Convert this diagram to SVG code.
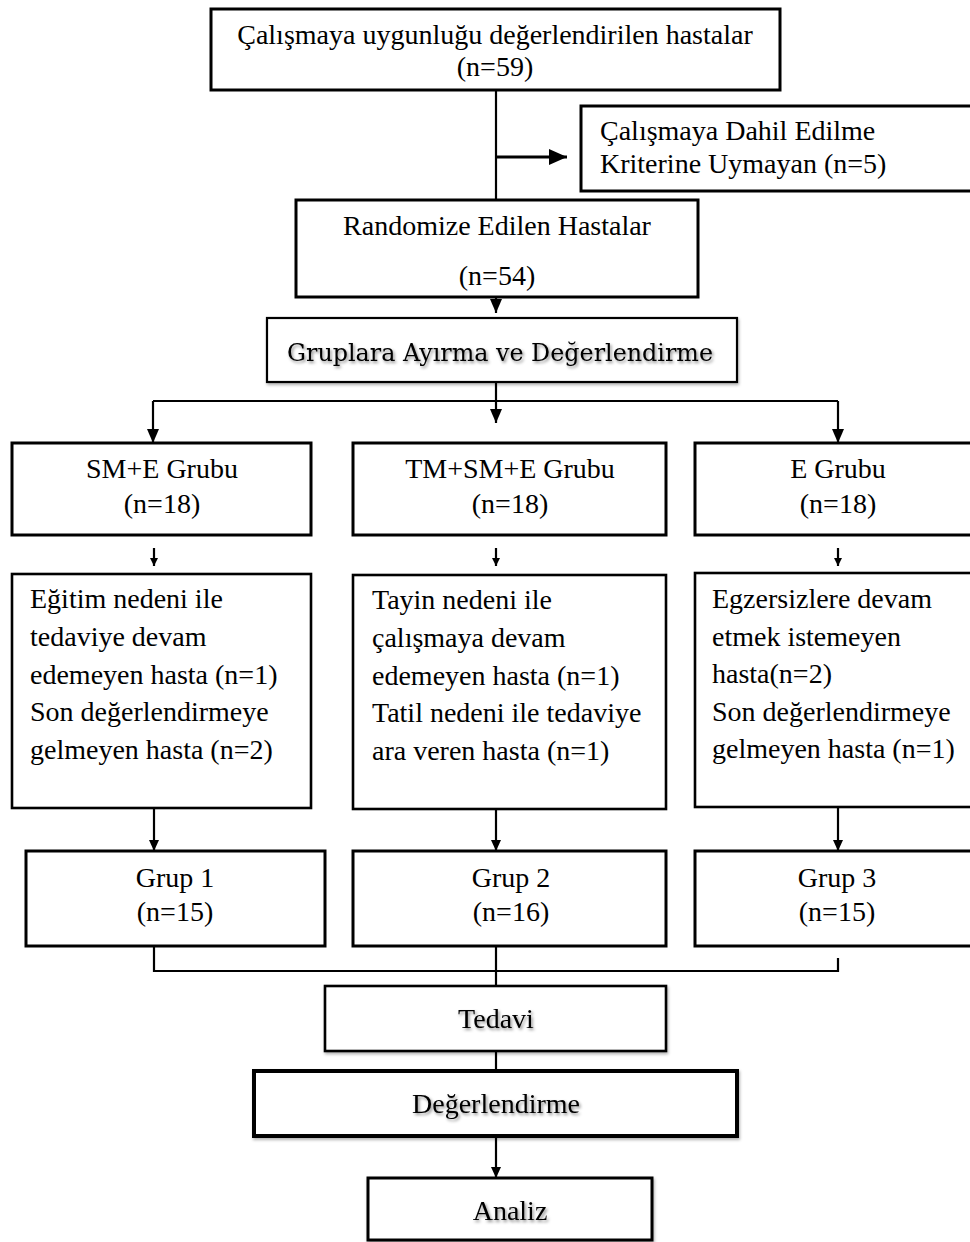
<svg xmlns="http://www.w3.org/2000/svg" width="970" height="1242" viewBox="0 0 970 1242">
<style>
  .box { fill: #ffffff; stroke: #000000; stroke-width: 3; }
  .thin { stroke-width: 2.2; }
  .mid { stroke-width: 2.6; }
  .thick { stroke-width: 4; }
  .t { font-family: "Liberation Serif", "Times New Roman", serif; font-size: 28px; fill: #000000; }
  .c { text-anchor: middle; }
  .cam { font-family: "DejaVu Serif", "Liberation Serif", serif; font-size: 25px; fill: #000000; }
  .ln { fill: none; stroke: #000000; stroke-width: 2.2; }
  .bold { stroke-width: 3.2; }
  .sh { filter: url(#tshadow); }
  .bsh { filter: url(#bshadow); }
</style>
<defs>
  <filter id="tshadow" x="-10%" y="-30%" width="120%" height="160%">
    <feDropShadow dx="1.5" dy="2" stdDeviation="1.4" flood-color="#000000" flood-opacity="0.45"/>
  </filter>
  <filter id="bshadow" x="-5%" y="-10%" width="110%" height="130%">
    <feDropShadow dx="1" dy="2" stdDeviation="1.5" flood-color="#000000" flood-opacity="0.3"/>
  </filter>
  <marker id="arrL" markerUnits="userSpaceOnUse" markerWidth="18" markerHeight="16" refX="18" refY="8" orient="auto">
    <path d="M0,0 L18,8 L0,16 z" fill="#000000"/>
  </marker>
  <marker id="arr" markerUnits="userSpaceOnUse" markerWidth="14" markerHeight="12" refX="14" refY="6" orient="auto">
    <path d="M0,0 L14,6 L0,12 z" fill="#000000"/>
  </marker>
  <marker id="arrM" markerUnits="userSpaceOnUse" markerWidth="11" markerHeight="10" refX="11" refY="5" orient="auto">
    <path d="M0,0 L11,5 L0,10 z" fill="#000000"/>
  </marker>
  <marker id="arrS" markerUnits="userSpaceOnUse" markerWidth="8" markerHeight="8" refX="8" refY="4" orient="auto">
    <path d="M0,0 L8,4 L0,8 z" fill="#000000"/>
  </marker>
</defs>
<rect x="0" y="0" width="970" height="1242" fill="#ffffff"/>

<g id="connectors">
  <path class="ln" d="M496,91 V200"/>
  <path class="ln bold" d="M496,157 H567" marker-end="url(#arrL)"/>
  <path class="ln" d="M496,297 V313" marker-end="url(#arr)"/>
  <path class="ln" d="M496,382 V401"/>
  <path class="ln" d="M153,401 H838"/>
  <path class="ln" d="M153,401 V443" marker-end="url(#arr)"/>
  <path class="ln" d="M496,401 V423" marker-end="url(#arr)"/>
  <path class="ln" d="M838,401 V443" marker-end="url(#arr)"/>
  <path class="ln" d="M154,548 V566" marker-end="url(#arrS)"/>
  <path class="ln" d="M496,548 V566" marker-end="url(#arrS)"/>
  <path class="ln" d="M838,548 V566" marker-end="url(#arrS)"/>
  <path class="ln" d="M154,809 V851" marker-end="url(#arrM)"/>
  <path class="ln" d="M496,809 V851" marker-end="url(#arrM)"/>
  <path class="ln" d="M838,808 V851" marker-end="url(#arrM)"/>
  <path class="ln" d="M154,947 V971 H838 V958"/>
  <path class="ln" d="M496,947 V986"/>
  <path class="ln" d="M496,1051 V1071"/>
  <path class="ln" d="M496,1137 V1178" marker-end="url(#arrM)"/>
</g>

<g id="node-eligible">
  <rect class="box" x="211" y="9" width="569" height="81"/>
  <text class="t c" x="495" y="44">Çalışmaya uygunluğu değerlendirilen hastalar</text>
  <text class="t c" x="495" y="76">(n=59)</text>
</g>

<g id="node-excluded">
  <rect class="box" x="581" y="106" width="400" height="85"/>
  <text class="t" x="600" y="140">Çalışmaya Dahil Edilme</text>
  <text class="t" x="600" y="173">Kriterine Uymayan (n=5)</text>
</g>

<g id="node-randomized">
  <rect class="box" x="296" y="200" width="402" height="97"/>
  <text class="t c" x="497" y="235">Randomize Edilen Hastalar</text>
  <text class="t c" x="497" y="285">(n=54)</text>
</g>

<g id="node-allocation">
  <rect class="box thin bsh" x="267" y="318" width="470" height="64"/>
  <text class="cam c sh" x="500" y="361" textLength="426" lengthAdjust="spacingAndGlyphs">Gruplara Ayırma ve Değerlendirme</text>
</g>

<g id="node-sme">
  <rect class="box" x="12" y="443" width="299" height="92"/>
  <text class="t c" x="162" y="478">SM+E Grubu</text>
  <text class="t c" x="162" y="513">(n=18)</text>
</g>

<g id="node-tmsme">
  <rect class="box" x="353" y="443" width="313" height="92"/>
  <text class="t c" x="510" y="478">TM+SM+E Grubu</text>
  <text class="t c" x="510" y="513">(n=18)</text>
</g>

<g id="node-e">
  <rect class="box" x="695" y="443" width="300" height="92"/>
  <text class="t c" x="838" y="478">E Grubu</text>
  <text class="t c" x="838" y="513">(n=18)</text>
</g>

<g id="node-loss1">
  <rect class="box mid" x="12" y="574" width="299" height="234"/>
  <text class="t" x="30" y="608">Eğitim nedeni ile</text>
  <text class="t" x="30" y="646">tedaviye devam</text>
  <text class="t" x="30" y="684">edemeyen hasta (n=1)</text>
  <text class="t" x="30" y="721">Son değerlendirmeye</text>
  <text class="t" x="30" y="759">gelmeyen hasta (n=2)</text>
</g>

<g id="node-loss2">
  <rect class="box mid" x="353" y="575" width="313" height="234"/>
  <text class="t" x="372" y="609">Tayin nedeni ile</text>
  <text class="t" x="372" y="647">çalışmaya devam</text>
  <text class="t" x="372" y="685">edemeyen hasta (n=1)</text>
  <text class="t" x="372" y="722">Tatil nedeni ile tedaviye</text>
  <text class="t" x="372" y="760">ara veren hasta (n=1)</text>
</g>

<g id="node-loss3">
  <rect class="box mid" x="695" y="573" width="300" height="234"/>
  <text class="t" x="712" y="608">Egzersizlere devam</text>
  <text class="t" x="712" y="646">etmek istemeyen</text>
  <text class="t" x="712" y="683">hasta(n=2)</text>
  <text class="t" x="712" y="721">Son değerlendirmeye</text>
  <text class="t" x="712" y="758">gelmeyen hasta (n=1)</text>
</g>

<g id="node-grup1">
  <rect class="box" x="26" y="851" width="299" height="95"/>
  <text class="t c" x="175" y="887">Grup 1</text>
  <text class="t c" x="175" y="921">(n=15)</text>
</g>

<g id="node-grup2">
  <rect class="box" x="353" y="851" width="313" height="95"/>
  <text class="t c" x="511" y="887">Grup 2</text>
  <text class="t c" x="511" y="921">(n=16)</text>
</g>

<g id="node-grup3">
  <rect class="box" x="695" y="851" width="300" height="95"/>
  <text class="t c" x="837" y="887">Grup 3</text>
  <text class="t c" x="837" y="921">(n=15)</text>
</g>

<g id="node-tedavi">
  <rect class="box mid bsh" x="325" y="986" width="341" height="65"/>
  <text class="t c sh" x="496" y="1028">Tedavi</text>
</g>

<g id="node-degerlendirme">
  <rect class="box thick bsh" x="254" y="1071" width="483" height="65"/>
  <text class="t c sh" x="496" y="1113">Değerlendirme</text>
</g>

<g id="node-analiz">
  <rect class="box bsh" x="368" y="1178" width="284" height="62"/>
  <text class="t c sh" x="510" y="1220">Analiz</text>
</g>
</svg>
